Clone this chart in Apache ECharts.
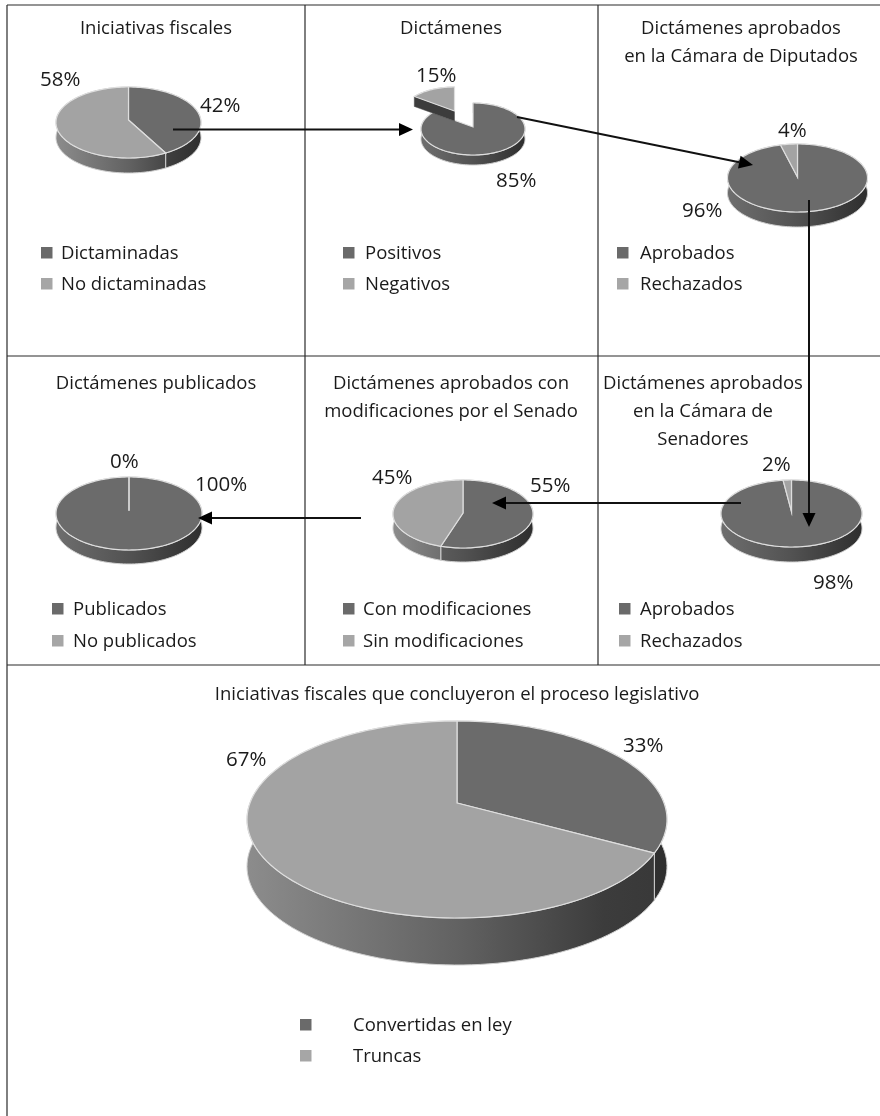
<!DOCTYPE html>
<html>
<head>
<meta charset="utf-8">
<style>
  html, body { margin: 0; background: #fff; }
  #main { width: 880px; height: 1116px; }
</style>
<script src="https://cdn.jsdelivr.net/npm/echarts@6/dist/echarts.min.js"></script>
</head>
<body>
<div id="main"></div>
<script>
// valores de cada pastel, en % (primer valor oscuro, segundo claro)
const iniciativas = [42, 58]
const dictamenes = [85, 15]
const diputados = [96, 4]
const senadores = [98, 2]
const modificaciones = [55, 45]
const publicados = [100, 0]
const concluidas = [33, 67]

const pieValues = [iniciativas, dictamenes, diputados, senadores, modificaciones, publicados, concluidas]

const legendNames = [
  ['Dictaminadas', 'No dictaminadas'],
  ['Positivos', 'Negativos'],
  ['Aprobados', 'Rechazados'],
  ['Aprobados', 'Rechazados'],
  ['Con modificaciones', 'Sin modificaciones'],
  ['Publicados', 'No publicados'],
  ['Convertidas en ley', 'Truncas']
]

const titles = [
  ['Iniciativas fiscales'],
  ['Dictámenes'],
  ['Dictámenes aprobados', 'en la Cámara de Diputados'],
  ['Dictámenes aprobados', 'en la Cámara de', 'Senadores'],
  ['Dictámenes aprobados con', 'modificaciones por el Senado'],
  ['Dictámenes publicados'],
  ['Iniciativas fiscales que concluyeron el proceso legislativo']
]

// layout: centro de cada pastel en perspectiva, etc.
const pieBoxes = [
  { cx: 128.5, apexY: 120, top: 87, bottom: 158, rx: 72.5, depth: 15 },
  { cx: 473, apexY: 127, top: 103, bottom: 155, rx: 52, depth: 10, explode: [-18.5, -16] },
  { cx: 797.5, apexY: 177, top: 144, bottom: 212, rx: 70, depth: 15 },
  { cx: 791.5, apexY: 511.7, top: 480, bottom: 547, rx: 70.5, depth: 15 },
  { cx: 463, apexY: 513, top: 480, bottom: 548, rx: 70, depth: 14 },
  { cx: 129, apexY: 510.7, top: 477, bottom: 550, rx: 73, depth: 14 },
  { cx: 457, apexY: 803, top: 721, bottom: 918, rx: 210, depth: 47 }
]
// [izquierda, linea base] de cada etiqueta de %
const labelPos = [
  [[200, 113], [40, 87]],
  [[496, 188], [416, 83]],
  [[682, 218], [778, 138]],
  [[813, 590], [762, 472]],
  [[530, 493], [372, 485]],
  [[195, 492], [110, 469]],
  [[623, 753], [226, 767]]
]
const titlePos = [
  [156, 35], [451, 35], [741, 35], [703, 390], [451, 390], [156, 390], [457, 701]
]
// [x cuadro, x texto, base fila 1, base fila 2]
const legendPos = [
  [41, 61, 259, 290],
  [343, 365, 259, 290],
  [617, 640, 259, 290],
  [619, 640, 615, 647],
  [343, 363, 615, 647],
  [52, 73, 615, 647],
  [300, 353, 1031, 1062]
]
const arrows = [
  [173, 129.5, 413, 129.5],
  [517, 117, 753, 165],
  [809, 200, 809, 527],
  [741, 503, 492, 503],
  [361, 518, 198, 518]
]
const frameLines = [
  [7, 5, 880, 5],
  [7, 5, 7, 1116],
  [305, 5, 305, 665],
  [598, 5, 598, 665],
  [7, 356, 880, 356],
  [7, 665, 880, 665]
]

const topColors = ['#6b6b6b', '#a3a3a3']
const legendColors = ['#6a6a6a', '#a6a6a6']
const fontName = 'Open Sans'
const TEXT_FONT = 18.5
const LABEL_FONT = 20.5

function rimPoint(box, deg) {
  const a = box.apexY - box.top
  const b = box.bottom - box.apexY
  const k = (b - a) / (a + b)
  const bigB = a * (1 + k)
  const bigA = box.rx * Math.sqrt(1 - k * k)
  const t = deg * Math.PI / 180
  const d = 1 + k * Math.cos(t)
  return [box.cx + bigA * Math.sin(t) / d, box.apexY - bigB * Math.cos(t) / d]
}

function rimPoints(box, start, end) {
  const pts = []
  const steps = Math.max(1, Math.ceil((end - start) / 2))
  for (let i = 0; i <= steps; i++) {
    pts.push(rimPoint(box, start + (end - start) * i / steps))
  }
  return pts
}

function sideGradient(box, idx) {
  const stops = idx === 0
    ? [{ offset: 0, color: '#6e6e6e' }, { offset: 0.5, color: '#525252' }, { offset: 1, color: '#2e2e2e' }]
    : [{ offset: 0, color: '#8c8c8c' }, { offset: 0.5, color: '#626262' }, { offset: 0.85, color: '#3c3c3c' }, { offset: 1, color: '#383838' }]
  return {
    type: 'linear', global: true,
    x: box.cx - box.rx, y: 0, x2: box.cx + box.rx, y2: 0,
    colorStops: stops
  }
}

// cada rebanada: lado extruido + cara superior + etiqueta
function renderSlice(params, api) {
  const pieIdx = api.value(0)
  const sliceIdx = api.value(1)
  const value = api.value(2)
  const before = api.value(3)
  const box = pieBoxes[pieIdx]
  const start = before * 3.6
  const end = (before + value) * 3.6
  const off = (box.explode && sliceIdx === 1) ? box.explode : [0, 0]
  const lift = off[0] || off[1] ? 4 : 0
  const rim = rimPoints(box, start, end).map(p => [p[0] + off[0], p[1] + off[1]])
  const apex = [box.cx + off[0], box.apexY + off[1]]
  const children = []

  const lower = rim.map(p => [p[0], p[1] + box.depth]).reverse()
  children.push({
    type: 'polygon', z2: 1 + lift,
    shape: { points: rim.concat(lower) },
    style: { fill: sideGradient(box, sliceIdx), stroke: '#cfcfcf', lineWidth: value > 0 ? 1 : 0 }
  })
  if (lift) {
    // pared del corte de la rebanada separada
    const p = rim[0]
    children.push({
      type: 'polygon', z2: 2 + lift,
      shape: { points: [p, apex, [apex[0], apex[1] + box.depth], [p[0], p[1] + box.depth]] },
      style: { fill: '#3c3c3c', stroke: '#555', lineWidth: 0.5 }
    })
  }
  children.push({
    type: 'polygon', z2: 3 + lift,
    shape: { points: [apex].concat(rim) },
    style: { fill: topColors[sliceIdx], stroke: '#dedede', lineWidth: 1.2 }
  })
  const lp = labelPos[pieIdx][sliceIdx]
  children.push({
    type: 'text', z2: 20,
    style: {
      text: value + '%', x: lp[0], y: lp[1] - LABEL_FONT * 0.35,
      align: 'left', verticalAlign: 'middle',
      fontFamily: fontName, fontSize: LABEL_FONT, fill: '#1a1a1a'
    }
  })
  return { type: 'group', children }
}

const sliceRows = []
pieValues.forEach((vals, p) => {
  let before = 0
  vals.forEach((v, s) => {
    sliceRows.push([p, s, v, before])
    before += v
  })
})

const els = []
frameLines.forEach(l => {
  els.push({
    type: 'line',
    shape: { x1: l[0], y1: l[1], x2: l[2], y2: l[3] },
    style: { stroke: '#2b2b2b', lineWidth: 1.2 }
  })
})
titles.forEach((lines, i) => {
  lines.forEach((t, j) => {
    els.push({
      type: 'text', z2: 5,
      style: {
        text: t, x: titlePos[i][0], y: titlePos[i][1] + j * 28 - TEXT_FONT * 0.35,
        align: 'center', verticalAlign: 'middle',
        fontFamily: fontName, fontSize: TEXT_FONT, fill: '#1a1a1a'
      }
    })
  })
})
legendNames.forEach((names, i) => {
  const lg = legendPos[i]
  names.forEach((n, j) => {
    const base = lg[2 + j]
    els.push({
      type: 'rect',
      shape: { x: lg[0], y: base - 12, width: 11.5, height: 11.5 },
      style: { fill: legendColors[j] }
    })
    els.push({
      type: 'text',
      style: {
        text: n, x: lg[1], y: base + 1 - TEXT_FONT * 0.35,
        align: 'left', verticalAlign: 'middle',
        fontFamily: fontName, fontSize: TEXT_FONT, fill: '#1a1a1a'
      }
    })
  })
})
arrows.forEach(a => {
  const len = Math.hypot(a[2] - a[0], a[3] - a[1])
  const ux = (a[2] - a[0]) / len
  const uy = (a[3] - a[1]) / len
  const bx = a[2] - ux * 14
  const by = a[3] - uy * 14
  els.push({
    type: 'line', z2: 30,
    shape: { x1: a[0], y1: a[1], x2: bx, y2: by },
    style: { stroke: '#111', lineWidth: 2 }
  })
  els.push({
    type: 'polygon', z2: 30,
    shape: { points: [[a[2], a[3]], [bx - uy * 6.5, by + ux * 6.5], [bx + uy * 6.5, by - ux * 6.5]] },
    style: { fill: '#000' }
  })
})

const myechart = echarts.init(document.getElementById('main'), null, { renderer: 'canvas' })
const option = {
  animation: false,
  backgroundColor: '#ffffff',
  graphic: { elements: els },
  series: [{
    type: 'custom',
    coordinateSystem: 'none',
    z: 0,
    renderItem: renderSlice,
    data: sliceRows,
    silent: true
  }]
}
myechart.setOption(option)
</script>
</body>
</html>
